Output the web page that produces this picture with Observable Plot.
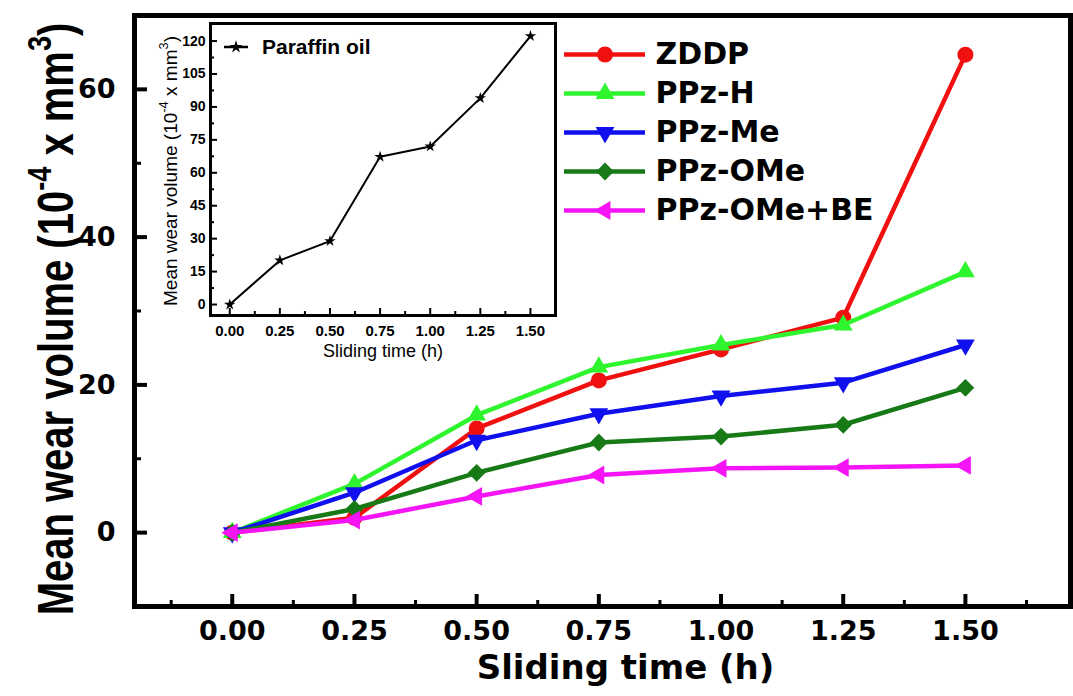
<!DOCTYPE html>
<html>
<head>
<meta charset="utf-8">
<script src="https://cdn.jsdelivr.net/npm/d3@7"></script>
<script src="https://cdn.jsdelivr.net/npm/@observablehq/plot@0.6"></script>
<style>
  html, body { margin: 0; padding: 0; background: #fff; }
  #wrap { position: relative; width: 1073px; height: 696px; overflow: hidden; background: #fff; }
  #wrap > svg { position: absolute; overflow: visible; }
</style>
</head>
<body>
<div id="wrap"></div>
<script>
// ---------------- data ----------------
const times = [0, 0.25, 0.5, 0.75, 1.0, 1.25, 1.5];
const seriesNames = ["ZDDP", "PPz-H", "PPz-Me", "PPz-OMe", "PPz-OMe+BE"];
const zddp     = [0, 2.0, 14.1, 20.6, 24.8, 29.1, 64.7];
const ppzH     = [0, 6.6, 15.9, 22.4, 25.4, 28.1, 35.3];
const ppzMe    = [0, 5.4, 12.5, 16.1, 18.5, 20.3, 25.4];
const ppzOMe   = [0, 3.2, 8.1, 12.2, 13.0, 14.6, 19.6];
const ppzOMeBE = [0, 1.7, 4.9, 7.8, 8.7, 8.8, 9.1];
const paraffinName = "Paraffin oil";
const paraffin = [0, 20.1, 28.9, 67.3, 72.0, 94.0, 122.3];

const xTickValues = [0, 0.25, 0.5, 0.75, 1.0, 1.25, 1.5];
const xTickLabels = ["0.00", "0.25", "0.50", "0.75", "1.00", "1.25", "1.50"];
const xMinorValues = [-0.125, 0.125, 0.375, 0.625, 0.875, 1.125, 1.375, 1.625];
const yTickValues = [0, 20, 40, 60];
const yMinorValues = [10, 30, 50];
const insetYTickValues = [0, 15, 30, 45, 60, 75, 90, 105, 120];
const insetYMinorValues = [7.5, 22.5, 37.5, 52.5, 67.5, 82.5, 97.5, 112.5];
const insetXMinorValues = [0.125, 0.375, 0.625, 0.875, 1.125, 1.375];

const xTitle = "Sliding time (h)";
const yTitleParts = [["Mean wear volume (10", false], ["-4", true], [" x mm", false], ["3", true], [")", false]];

// ---------------- styles ----------------
const colors = ["#f01010", "#2ef52e", "#1010ee", "#177a17", "#f514f5"];
const symbols = ["circle", "triangle", "triangle", "diamond2", "triangle"];
const rotations = [0, 0, 180, 0, -90];
const sizes = [8, 7, 7, 8, 7];

const seriesValues = [zddp, ppzH, ppzMe, ppzOMe, ppzOMeBE];
const rows = seriesNames.flatMap((name, i) => times.map((t, j) => ({name, t, v: seriesValues[i][j]})));
const paraffinRows = times.map((t, j) => ({t, v: paraffin[j]}));
const xTicks = xTickValues.map((v, i) => ({v, label: xTickLabels[i]}));

const wrap = document.getElementById("wrap");
const W = 1073, H = 696;
const mL = 134, mR = 3, mT = 15, mB = 90;
const innerW = W - mL - mR, innerH = H - mT - mB;
const mainFont = "'DejaVu Sans', sans-serif";

// ---------------- main chart ----------------
const main = Plot.plot({
  width: W, height: H,
  marginLeft: mL, marginRight: mR, marginTop: mT, marginBottom: mB,
  x: {domain: [-0.2, 1.715], axis: null},
  y: {domain: [-10, 70], axis: null},
  style: {fontFamily: mainFont, fontWeight: "bold", background: "transparent", color: "#000"},
  marks: [
    ...seriesNames.flatMap((name, i) => {
      const d = rows.filter(r => r.name === name);
      return [
        Plot.line(d, {x: "t", y: "v", stroke: colors[i], strokeWidth: 4.5}),
        Plot.dot(d, {x: "t", y: "v", symbol: symbols[i], r: sizes[i], rotate: rotations[i], fill: colors[i], stroke: "none"})
      ];
    }),
    Plot.tickX(xMinorValues, {x: d => d, insetTop: innerH - 6, stroke: "#000", strokeWidth: 3}),
    Plot.tickX(xTickValues, {x: d => d, insetTop: innerH - 12, stroke: "#000", strokeWidth: 4}),
    Plot.tickY(yMinorValues, {y: d => d, insetRight: innerW - 7, stroke: "#000", strokeWidth: 3}),
    Plot.tickY(yTickValues, {y: d => d, insetRight: innerW - 13, stroke: "#000", strokeWidth: 4}),
    Plot.frame({stroke: "#000", strokeWidth: 5}),
    Plot.text(xTicks, {x: "v", text: "label", frameAnchor: "bottom", lineAnchor: "top", dy: 14, fontSize: 27, fontWeight: "bold", fill: "#000"}),
    Plot.text(yTickValues, {y: d => d, text: d => String(d), frameAnchor: "left", textAnchor: "end", dx: -19, fontSize: 27, fontWeight: "bold", fill: "#000"}),
    Plot.text([xTitle], {text: d => d, frameAnchor: "bottom", lineAnchor: "top", dy: 48, dx: 23, fontSize: 34, fontWeight: "bold", fill: "#000"})
  ]
});
main.style.left = "0px"; main.style.top = "0px";
wrap.appendChild(main);

function rotatedTitle(svg, x, y, fontSize, family, weight, scaleY) {
  const t = d3.select(svg).append("text")
    .attr("transform", `translate(${x},${y}) rotate(-90) scale(1,${scaleY})`)
    .attr("text-anchor", "middle")
    .attr("font-family", family)
    .attr("font-weight", weight)
    .attr("font-size", fontSize)
    .attr("fill", "#000");
  let raised = false;
  yTitleParts.forEach(([s, sup]) => {
    const ts = t.append("tspan").text(s);
    if (sup) {
      ts.attr("font-size", fontSize * 0.68).attr("dy", raised ? 0 : -fontSize * 0.45);
      raised = true;
    } else {
      if (raised) ts.attr("dy", fontSize * 0.45);
      raised = false;
    }
  });
}
rotatedTitle(main, 73, 319, 40, "'Liberation Sans', Arial, sans-serif", "bold", 1.25);

// ---------------- legend ----------------
const legend = Plot.plot({
  width: 430, height: 215, margin: 0,
  x: {domain: [0, 1], range: [14, 95], axis: null},
  y: {type: "point", domain: seriesNames, range: [23, 180], padding: 0, axis: null},
  style: {fontFamily: mainFont, fontWeight: "bold", background: "transparent"},
  marks: [
    ...seriesNames.flatMap((name, i) => [
      Plot.ruleY([name], {y: d => d, x1: () => 0, x2: () => 1, stroke: colors[i], strokeWidth: 4.5}),
      Plot.dot([name], {x: () => 0.5, y: d => d, symbol: symbols[i], r: sizes[i], rotate: rotations[i], fill: colors[i], stroke: "none"})
    ]),
    Plot.text(seriesNames, {x: () => 1, y: d => d, text: d => d, textAnchor: "start", dx: 10, fontSize: 30, fontWeight: "bold", fill: "#000"})
  ]
});
legend.style.left = "550px"; legend.style.top = "30px";
wrap.appendChild(legend);

// ---------------- inset ----------------
const iW = 415, iH = 350, iL = 65, iR = 5, iT = 5, iB = 53;
const iInnerW = iW - iL - iR, iInnerH = iH - iT - iB;
const insetFont = "'Liberation Sans', Arial, sans-serif";
const inset = Plot.plot({
  width: iW, height: iH,
  marginLeft: iL, marginRight: iR, marginTop: iT, marginBottom: iB,
  x: {domain: [-0.096, 1.625], axis: null},
  y: {domain: [-5, 128], axis: null},
  style: {fontFamily: insetFont, background: "transparent", color: "#000"},
  marks: [
    Plot.line(paraffinRows, {x: "t", y: "v", stroke: "#000", strokeWidth: 2}),
    Plot.dot(paraffinRows, {x: "t", y: "v", symbol: "star", r: 3.6, fill: "#000", stroke: "none"}),
    Plot.tickX(insetXMinorValues, {x: d => d, insetTop: iInnerH - 4, stroke: "#000", strokeWidth: 2}),
    Plot.tickX(xTickValues, {x: d => d, insetTop: iInnerH - 7, stroke: "#000", strokeWidth: 2}),
    Plot.tickY(insetYMinorValues, {y: d => d, insetRight: iInnerW - 4, stroke: "#000", strokeWidth: 2}),
    Plot.tickY(insetYTickValues, {y: d => d, insetRight: iInnerW - 7, stroke: "#000", strokeWidth: 2}),
    Plot.frame({stroke: "#000", strokeWidth: 3}),
    Plot.text(xTicks, {x: "v", text: "label", frameAnchor: "bottom", lineAnchor: "top", dy: 10, fontSize: 15, fontWeight: "bold", fill: "#000"}),
    Plot.text(insetYTickValues, {y: d => d, text: d => String(d), frameAnchor: "left", textAnchor: "end", dx: -5, fontSize: 14, fontWeight: "bold", fill: "#000"}),
    Plot.text([xTitle], {text: d => d, frameAnchor: "bottom", lineAnchor: "top", dy: 29, fontSize: 18, fill: "#000"})
  ]
});
inset.style.left = "145px"; inset.style.top = "18px";
wrap.appendChild(inset);
rotatedTitle(inset, 32, 153, 19, insetFont, "normal", 1.0);

// inset legend (line + star + label)
const ig = d3.select(inset).append("g");
ig.append("line").attr("x1", 79).attr("x2", 103).attr("y1", 29).attr("y2", 29).attr("stroke", "#000").attr("stroke-width", 2.5);
ig.append("path").attr("d", d3.symbol(d3.symbolStar, Math.PI * 4 * 4)()).attr("transform", "translate(91,29)").attr("fill", "#000");
ig.append("text").attr("x", 117).attr("y", 36).attr("text-anchor", "start").attr("font-family", insetFont).attr("font-weight", "bold").attr("font-size", 21).attr("fill", "#000").text(paraffinName);
</script>
</body>
</html>
